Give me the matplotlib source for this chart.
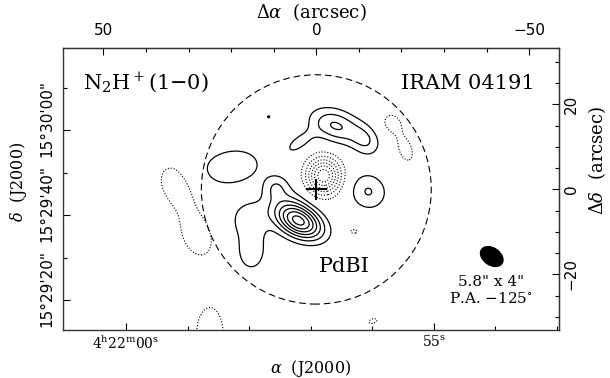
import numpy as np
import matplotlib.pyplot as plt
from matplotlib.patches import Circle, Ellipse
from matplotlib.ticker import FixedLocator, MultipleLocator, NullFormatter

plt.rcParams['mathtext.fontset'] = 'dejavuserif'

# source position (IRAM 04191) used for the RA/Dec labelling
ra0_sec = 56.91      # 4h21m56.91s
dec0_sec = 46.1      # +15d29'46.1"
cosdec = np.cos(np.deg2rad(15.496))

# emission model: gaussian blobs (offsets in arcsec,
# amplitudes in units of the contour step, pa of major axis on the page)
comp_ra   = [3.8, 6.5, 9.5, 15.8, 15.3, 20.0, -12.2, -4.5, -11.5, 4.0, 11.2,
             -1.7, -17.8, -20.9, -8.8, 33.0, 28.0, 25.0, -13.3]
comp_dec  = [-7.6, -4.8, 0.5, -7.0, -14.5, 5.3, -0.5, 15.0, 11.5, 11.0, 17.1,
             3.2, 15.6, 9.5, -9.9, 1.0, -11.0, -34.0, -31.0]
comp_amp  = [6.3, 1.6, 1.5, 1.7, 1.7, 1.9, 2.07, 3.1, 1.85, 1.4, 1.05,
             -6.8, -1.5, -1.5, -1.2, -1.5, -1.5, -1.7, -1.15]
comp_smaj = [4.0, 4.5, 2.0, 3.0, 3.6, 5.3, 3.2, 4.2, 2.8, 3.0, 0.8,
             2.95, 2.1, 3.0, 1.3, 5.0, 5.0, 6.0, 1.8]
comp_smin = [2.4, 3.5, 2.0, 3.0, 2.6, 3.2, 3.0, 2.6, 2.2, 1.4, 0.8,
             2.75, 1.8, 1.6, 0.8, 3.4, 3.4, 3.0, 1.0]
comp_pa   = [-28, -50, 0, 0, 90, 10, -40, -20, -50, 35, 0,
             90, -50, -70, 0, -62, -68, 90, 15]

pos_levels = [1, 2, 3, 4, 5, 6, 7]
neg_levels = [-7, -6, -5, -4, -3, -2, -1]

pb_radius = 27.0           # PdBI primary beam (HPBW/2)
beam_maj, beam_min, beam_pa = 5.8, 4.0, -125.0
beam_ra, beam_dec = -41.2, -15.8

ra_major = [0.0, 55.0]     # 4h22m00s and 4h21m55s
ra_minor = [59.0, 58.0, 57.0, 56.0, 54.0, 53.0]
dec_major = [60.0, 40.0, 20.0]   # 15d30'00", 15d29'40", 15d29'20"
dec_minor = [70.0, 50.0, 30.0, 10.0]
dec_labels = ['15\u00b030\'00"', '15\u00b029\'40"', '15\u00b029\'20"']


def gauss(xx, yy, x0, y0, amp, smaj, smin, pa):
    t = np.deg2rad(pa)
    u = -(xx - x0)          # east is to the left
    v = yy - y0
    a = u * np.cos(t) + v * np.sin(t)
    b = -u * np.sin(t) + v * np.cos(t)
    return amp * np.exp(-0.5 * ((a / smaj) ** 2 + (b / smin) ** 2))


x = np.arange(-62, 64, 0.2)
y = np.arange(-38, 38, 0.2)
X, Y = np.meshgrid(x, y)
Z = np.zeros_like(X)
for i in range(len(comp_ra)):
    Z += gauss(X, Y, comp_ra[i], comp_dec[i], comp_amp[i],
               comp_smaj[i], comp_smin[i], comp_pa[i])


def ra_off(s):
    # seconds of 4h2Xm -> arcsec offset
    if s < 30:
        s = s + 60.0
    return (s - ra0_sec) * 15.0 * cosdec


def dec_off(s):
    # seconds above 15d29'00" -> arcsec offset
    return s - dec0_sec


fig = plt.figure(figsize=(6.1, 3.78), dpi=100)
ax = fig.add_axes([63 / 610, 1 - 330 / 378, (559 - 63) / 610, (330 - 48) / 378])

ax.contour(X, Y, Z, levels=pos_levels, colors='k', linewidths=0.9,
           linestyles='solid')
ax.contour(X, Y, Z, levels=neg_levels, colors='k', linewidths=0.8,
           linestyles=[(0, (1, 1.6))])

ax.add_patch(Circle((0, 0), pb_radius, fill=False, ec='k', lw=0.8,
                    ls=(0, (6, 3.5))))
ang = np.rad2deg(np.arctan2(np.cos(np.deg2rad(beam_pa)), np.sin(np.deg2rad(beam_pa))))
ax.add_patch(Ellipse((beam_ra, beam_dec), beam_maj, beam_min, angle=ang,
                     fc='k', ec='k'))
ax.plot([2.2, -2.2], [0, 0], color='k', lw=1.5)
ax.plot([0, 0], [-2.2, 2.2], color='k', lw=1.5)

ax.set_xlim(59.5, -57.0)
ax.set_ylim(-33.1, 33.3)

ax.text(54.8, 23.6, r'N$_2$H$^+$(1$-$0)', fontsize=15, family='DejaVu Serif',
        ha='left', va='baseline')
ax.text(-51.3, 23.6, 'IRAM 04191', fontsize=15, family='DejaVu Serif',
        ha='right', va='baseline')
ax.text(-6.5, -19.4, 'PdBI', fontsize=15, family='DejaVu Serif',
        ha='center', va='baseline')
ax.text(-41.0, -21.8, '5.8" x 4"', fontsize=11, family='DejaVu Serif',
        ha='center', va='center')
ax.text(-41.0, -25.6, 'P.A. $-$125$^{\\circ}$', fontsize=11,
        family='DejaVu Serif', ha='center', va='center')

# bottom / left: equatorial coordinates
ax.xaxis.set_major_locator(FixedLocator([ra_off(s) for s in ra_major]))
ax.xaxis.set_minor_locator(FixedLocator([ra_off(s) for s in ra_minor]))
ax.set_xticklabels([r'4$^{\rm h}$22$^{\rm m}$00$^{\rm s}$', r'55$^{\rm s}$'],
                   family='DejaVu Serif', fontsize=10)
ax.yaxis.set_major_locator(FixedLocator([dec_off(s) for s in dec_major]))
ax.yaxis.set_minor_locator(FixedLocator([dec_off(s) for s in dec_minor]))
ax.yaxis.set_major_formatter(NullFormatter())
# dec labels sit a little above their ticks, as in the original plot
ytr = ax.get_yaxis_transform()
for s, lab in zip(dec_major, dec_labels):
    ax.text(-0.032, dec_off(s) + 2.8, lab, transform=ytr, rotation=90,
            ha='center', va='center', family='DejaVu Sans', fontsize=11)
ax.set_xlabel(r'$\alpha$  (J2000)', family='DejaVu Serif', fontsize=11.5,
              labelpad=4)
ax.set_ylabel(r'$\delta$  (J2000)', family='DejaVu Serif', fontsize=11.5,
              labelpad=21)
ax.yaxis.label.set_y(0.525)

# top / right: offsets
top = ax.secondary_xaxis('top')
top.xaxis.set_major_locator(FixedLocator([50, 0, -50]))
top.xaxis.set_minor_locator(MultipleLocator(10))
top.set_xticklabels(['50', '0', '\u221250'], family='DejaVu Sans', fontsize=11)
top.set_xlabel(r'$\Delta\alpha$  (arcsec)', family='DejaVu Serif',
               fontsize=13, labelpad=4)
right = ax.secondary_yaxis('right')
right.yaxis.set_major_locator(FixedLocator([20, 0, -20]))
right.yaxis.set_minor_locator(MultipleLocator(5))
right.set_yticklabels(['20', '0', '\u221220'], rotation=90, va='center',
                      family='DejaVu Sans', fontsize=11)
right.set_ylabel(r'$\Delta\delta$  (arcsec)', family='DejaVu Serif',
                 fontsize=13, labelpad=5)
right.yaxis.label.set_y(0.6)

for a in (ax, top, right):
    a.tick_params(which='major', direction='in', length=5, width=0.8)
    a.tick_params(which='minor', direction='in', length=3, width=0.8)
top.tick_params(which='major', pad=7)
for s in ax.spines.values():
    s.set_linewidth(1.0)
    s.set_color('#333333')

fig.savefig('out.png', dpi=100)
